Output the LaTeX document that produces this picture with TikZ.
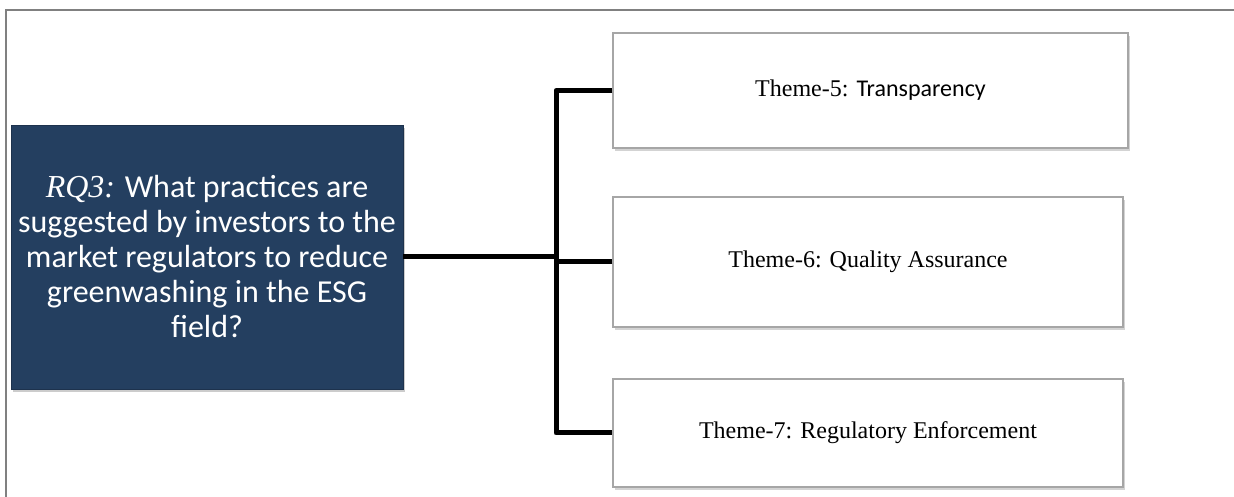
\documentclass[tikz,border=0pt]{standalone}
\usepackage{fontspec}
\setmainfont{Liberation Serif}
\newfontfamily\calibri{Carlito}
\usetikzlibrary{calc}
\usetikzlibrary{shadows, positioning}
\definecolor{rqblue}{RGB}{36,63,96}
\newcommand{\themeX}{868}
\newcommand{\spineX}{556}
\tikzset{
  rqbox/.style={fill=rqblue, draw=rqblue!80!black, line width=0.8pt, minimum width=392pt, minimum height=264pt,
    align=center, text=white, inner sep=0pt, font=\fontsize{32}{35}\selectfont\calibri,
    drop shadow={shadow xshift=2pt, shadow yshift=-3pt, opacity=0.4}},
  themebox/.style={fill=white, draw=gray!70, line width=1.5pt, minimum width=510pt, inner sep=0pt,
    font=\fontsize{24}{28}\selectfont,
    drop shadow={shadow xshift=2pt, shadow yshift=-3pt, opacity=0.35}},
  branch/.style={line width=5pt, line join=round}
}

\begin{document}
\begin{tikzpicture}[x=1pt, y=1pt]
\useasboundingbox (0,0) rectangle (1234,497);
\draw[gray, line width=2pt] (6,0) -- (6,487) -- (1234,487);

\node[rqbox] at (207,240) (rq) {{\rmfamily\itshape RQ3:} What practices are\\
  suggested by investors to the\\ market regulators to reduce\\
  greenwashing in the ESG\\ field?};

\node[themebox, minimum width=515pt, minimum height=115pt] at (870.5,406.5) (t5) {Theme-5: {\calibri Transparency}};
\node[themebox, minimum height=130pt] at (\themeX,235) (t6) {Theme-6: Quality Assurance};
\node[themebox, minimum height=108pt] at (\themeX,64) (t7) {Theme-7: Regulatory Enforcement};

\coordinate (spine) at (\spineX,240);
\draw[branch] (rq.east) -- (spine);
\draw[branch] (t5.west) -- (t5.west -| spine) -- (t7.west -| spine) -- (t7.west);
\draw[branch] (t6.west) -- (t6.west -| spine);

\end{tikzpicture}
\end{document}
